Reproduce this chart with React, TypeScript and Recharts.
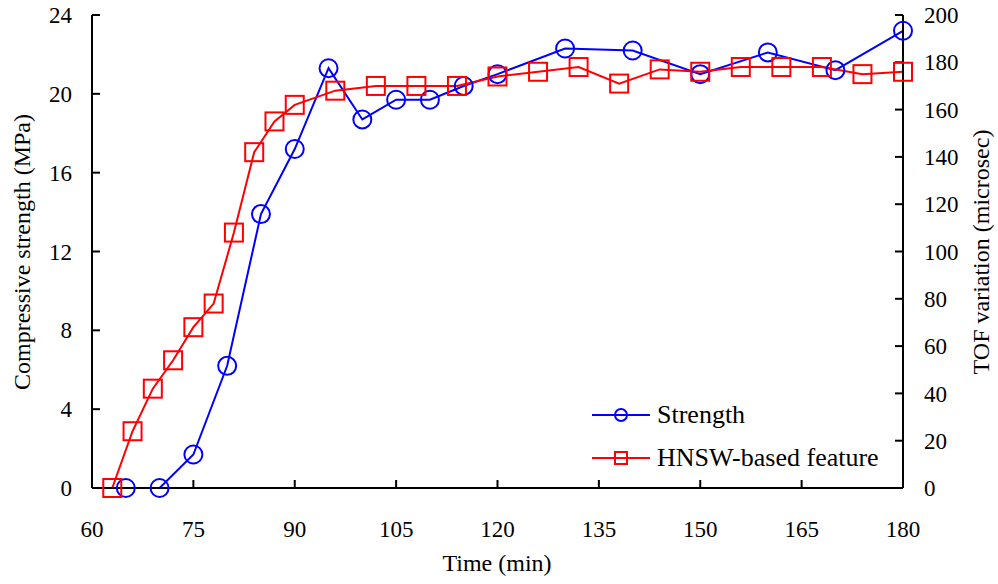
import { LineChart, Line, XAxis, YAxis, Legend } from 'recharts'

const strengthTime = [65, 70, 75, 80, 85, 90, 95, 100, 105, 110, 115, 120, 130, 140, 150, 160, 170, 180]
const strengthMPa = [0, 0, 1.7, 6.2, 13.9, 17.2, 21.3, 18.7, 19.7, 19.7, 20.4, 21.0, 22.3, 22.2, 21.0, 22.1, 21.2, 23.2]

const hnswTime = [63, 66, 69, 72, 75, 78, 81, 84, 87, 90, 96, 102, 108, 114, 120, 126, 132, 138, 144, 150, 156, 162, 168, 174, 180]
const hnswTof = [0, 24, 42, 54, 68, 78, 108, 142, 155, 162, 168, 170, 170, 170, 174, 176, 178, 171, 177, 176, 178, 178, 178, 175, 176]

const timeTicks = [60, 75, 90, 105, 120, 135, 150, 165, 180]
const strengthTicks = [0, 4, 8, 12, 16, 20, 24]
const tofTicks = [0, 20, 40, 60, 80, 100, 120, 140, 160, 180, 200]

const BLUE = '#0000ff'
const RED = '#ff0000'
const FONT = '"Liberation Serif", "Times New Roman", serif'

const strengthData = strengthTime.map((t, i) => ({ t, strength: strengthMPa[i] }))
const hnswData = hnswTime.map((t, i) => ({ t, tof: hnswTof[i] }))

const tickStyle = { fontSize: 23, fill: '#000', fontFamily: FONT }

function SquareDot(props: any) {
  const { cx, cy, index } = props
  if (cx == null || cy == null) return <g key={index} />
  return <rect key={index} x={cx - 9} y={cy - 9} width={18} height={18} fill="none" stroke={RED} strokeWidth={2} />
}

function LegendBox({ payload }: any) {
  // strength goes on top, like the original figure
  const items = [...(payload || [])].sort((a: any, b: any) => (a.dataKey === 'strength' ? -1 : b.dataKey === 'strength' ? 1 : 0))
  return (
    <div style={{ fontFamily: FONT, fontSize: 26, color: '#000' }}>
      {items.map((p: any, i: number) => (
        <div key={i} style={{ display: 'flex', alignItems: 'center', height: 43 }}>
          <svg width={64} height={24} style={{ marginRight: 3 }}>
            <line x1={2} y1={12} x2={60} y2={12} stroke={p.color} strokeWidth={2} />
            {p.dataKey === 'strength' ? (
              <circle cx={31} cy={12} r={6} fill="none" stroke={p.color} strokeWidth={2} />
            ) : (
              <rect x={25} y={6} width={12} height={12} fill="none" stroke={p.color} strokeWidth={2} />
            )}
          </svg>
          <span>{p.value}</span>
        </div>
      ))}
    </div>
  )
}

export default function App() {
  return (
    <div style={{ position: 'absolute', left: 0, top: 0, width: 998, height: 584, background: '#fff', fontFamily: FONT }}>
      <LineChart width={998} height={584} margin={{ top: 15, right: 0, bottom: 0, left: 0 }}>
        <XAxis
          xAxisId="bottom"
          dataKey="t"
          type="number"
          domain={[60, 180]}
          ticks={timeTicks}
          allowDuplicatedCategory={false}
          height={96}
          stroke="#000"
          axisLine={{ stroke: '#000', strokeWidth: 2 }}
          tickLine={{ stroke: '#000', strokeWidth: 2 }}
          tickSize={-8}
          tickMargin={41}
          tick={tickStyle}
        />
        <XAxis
          xAxisId="top"
          orientation="top"
          dataKey="t"
          type="number"
          domain={[60, 180]}
          height={0}
          tick={false}
          tickLine={false}
          axisLine={{ stroke: '#000', strokeWidth: 2 }}
        />
        <YAxis
          yAxisId="left"
          domain={[0, 24]}
          ticks={strengthTicks}
          width={92}
          axisLine={{ stroke: '#000', strokeWidth: 2 }}
          tickLine={{ stroke: '#000', strokeWidth: 2 }}
          tickSize={-8}
          tickMargin={28}
          tick={tickStyle}
        />
        <YAxis
          yAxisId="right"
          orientation="right"
          domain={[0, 200]}
          ticks={tofTicks}
          width={95}
          axisLine={{ stroke: '#000', strokeWidth: 2 }}
          tickLine={{ stroke: '#000', strokeWidth: 2 }}
          tickSize={-8}
          tickMargin={29}
          tick={{ ...tickStyle, textAnchor: 'start' }}
        />
        <Line
          data={strengthData}
          xAxisId="bottom"
          yAxisId="left"
          dataKey="strength"
          name="Strength"
          stroke={BLUE}
          strokeWidth={2}
          dot={{ r: 9, fill: 'none', stroke: BLUE, strokeWidth: 2 }}
          activeDot={false}
          isAnimationActive={false}
        />
        <Line
          data={hnswData}
          xAxisId="bottom"
          yAxisId="right"
          dataKey="tof"
          name="HNSW-based feature"
          stroke={RED}
          strokeWidth={2}
          dot={SquareDot}
          activeDot={false}
          isAnimationActive={false}
        />
        <Legend
          layout="vertical"
          align="center"
          verticalAlign="middle"
          content={LegendBox}
          wrapperStyle={{ left: 590, top: 393, width: 320, height: 90 }}
        />
        <text x={497} y={563} textAnchor="middle" dominantBaseline="central" fontSize={24} fontFamily={FONT}>
          Time (min)
        </text>
        <text x={22} y={252} transform="rotate(-90, 22, 252)" textAnchor="middle" dominantBaseline="central" fontSize={24} fontFamily={FONT}>
          Compressive strength (MPa)
        </text>
        <text x={981} y={252} transform="rotate(-90, 981, 252)" textAnchor="middle" dominantBaseline="central" fontSize={24} fontFamily={FONT}>
          TOF variation (microsec)
        </text>
      </LineChart>
    </div>
  )
}
